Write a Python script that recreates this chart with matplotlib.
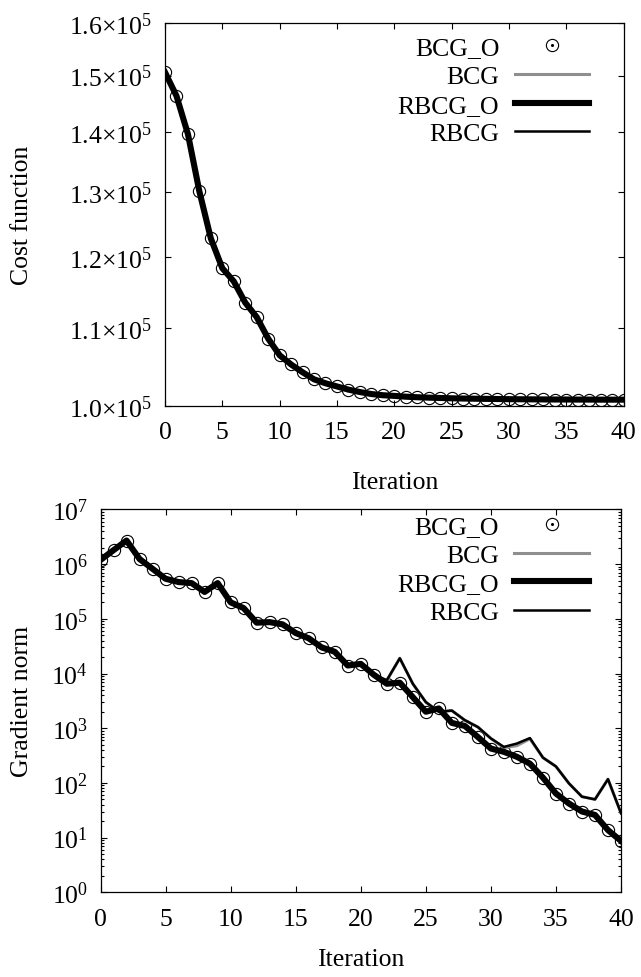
import numpy as np
import matplotlib
matplotlib.use("Agg")
import matplotlib.pyplot as plt
from matplotlib.ticker import FixedLocator, NullLocator, LogLocator, FuncFormatter, MultipleLocator
from matplotlib.legend_handler import HandlerTuple

plt.rcParams['font.family'] = ['Liberation Serif', 'DejaVu Serif']
plt.rcParams['mathtext.fontset'] = 'custom'
plt.rcParams['mathtext.rm'] = 'Liberation Serif'
plt.rcParams['mathtext.it'] = 'Liberation Serif:italic'
plt.rcParams['mathtext.bf'] = 'Liberation Serif:bold'

# iterations 0..40
iters = np.arange(41)

# cost function (same for all four runs)
cost = [1.506e5, 1.463e5, 1.396e5, 1.301e5, 1.228e5, 1.184e5, 1.165e5, 1.135e5,
        1.115e5, 1.086e5, 1.064e5, 1.052e5, 1.042e5, 1.033e5, 1.028e5, 1.024e5,
        1.020e5, 1.017e5, 1.0145e5, 1.013e5, 1.0122e5, 1.0112e5, 1.0105e5, 1.0100e5,
        1.0096e5, 1.0092e5, 1.0089e5, 1.0087e5, 1.0085e5, 1.0083e5, 1.0081e5,
        1.0080e5, 1.0079e5, 1.0078e5, 1.0077e5, 1.0077e5, 1.0076e5, 1.0076e5,
        1.0075e5, 1.0075e5, 1.0075e5]

# gradient norm, orthogonalised runs (BCG_O ~ RBCG_O)
grad_o = [1.19e6, 1.8e6, 2.7e6, 1.24e6, 8.2e5, 5.4e5, 4.7e5, 4.5e5, 3.1e5, 4.5e5,
          2.0e5, 1.57e5, 8.5e4, 8.7e4, 7.9e4, 5.5e4, 4.4e4, 3.0e4, 2.5e4, 1.4e4,
          1.5e4, 9.5e3, 6.5e3, 6.8e3, 3.7e3, 2.0e3, 2.3e3, 1.25e3, 1.1e3, 690,
          425, 370, 300, 225, 125, 64, 42, 30, 26, 13.7, 8.7]

# gradient norm, plain runs
grad_rbcg = [1.19e6, 1.8e6, 2.7e6, 1.24e6, 8.2e5, 5.4e5, 4.7e5, 4.5e5, 3.1e5, 4.5e5,
             2.0e5, 1.57e5, 8.5e4, 8.7e4, 7.9e4, 5.5e4, 4.4e4, 3.0e4, 2.5e4, 1.4e4,
             1.5e4, 9.5e3, 7.5e3, 1.9e4, 6.5e3, 3.0e3, 2.0e3, 2.1e3, 1.4e3, 1.05e3,
             650, 455, 525, 660, 290, 200, 98, 56, 50, 117, 28]
grad_bcg = [1.19e6, 1.8e6, 2.7e6, 1.24e6, 8.2e5, 5.4e5, 4.7e5, 4.5e5, 3.1e5, 4.5e5,
            2.0e5, 1.57e5, 8.5e4, 8.7e4, 7.9e4, 5.5e4, 4.4e4, 3.0e4, 2.5e4, 1.4e4,
            1.5e4, 9.5e3, 7.5e3, 1.9e4, 6.5e3, 3.0e3, 2.0e3, 2.1e3, 1.4e3, 1.05e3,
            650, 440, 480, 640, 290, 200, 98, 56, 50, 117, 28]

cost_ticks = [1.0e5, 1.1e5, 1.2e5, 1.3e5, 1.4e5, 1.5e5, 1.6e5]
names = ['BCG_O', 'BCG', 'RBCG_O', 'RBCG']

FS = 18.5
grey = '#8f8f8f'


def draw(ax, y_o, y_bcg, y_rbcg):
    # gnuplot order: BCG_O points, BCG, RBCG_O, RBCG
    c1, = ax.plot(iters, y_o, ls='none', marker='o', ms=8.8, mfc='none',
                  mec='black', mew=0.8, zorder=2)
    c2, = ax.plot(iters, y_o, ls='none', marker='o', ms=1.2, color='black', zorder=2)
    l1, = ax.plot(iters, y_bcg, color=grey, lw=2.2, zorder=3)
    l2, = ax.plot(iters, y_o, color='black', lw=4.4, zorder=4)
    l3, = ax.plot(iters, y_rbcg, color='black', lw=1.8, zorder=5)
    return [(c1, c2), l1, l2, l3]


def style(ax, xpad):
    ax.set_xlim(0, 40)
    ax.xaxis.set_major_locator(MultipleLocator(5))
    ax.tick_params(which='both', direction='in', top=True, right=True,
                   labelsize=FS, width=0.8)
    ax.tick_params(axis='x', which='major', length=4.5, pad=11)
    ax.tick_params(axis='y', which='major', length=4.5, pad=9)
    ax.tick_params(which='minor', length=2.5)
    for s in ax.spines.values():
        s.set_linewidth(0.9)
    ax.set_xlabel('Iteration', fontsize=FS, labelpad=xpad)


def add_legend(ax, h, anchor):
    ax.legend(h, names, handler_map={tuple: HandlerTuple(ndivide=1)},
              markerfirst=False, frameon=False, fontsize=FS,
              loc='upper right', bbox_to_anchor=anchor,
              borderaxespad=0, borderpad=0, handlelength=2.9,
              handletextpad=0.6, labelspacing=0.22)


fig = plt.figure(figsize=(6.41, 9.78), dpi=100)

ax1 = fig.add_axes([0.2574, 0.5841, 0.7153, 0.3914])
h = draw(ax1, cost, cost, cost)
ax1.set_yscale('log')
ax1.set_ylim(1.0e5, 1.6e5)
ax1.yaxis.set_major_locator(FixedLocator(cost_ticks))
ax1.yaxis.set_minor_locator(NullLocator())
ax1.yaxis.set_major_formatter(FuncFormatter(lambda v, p: r'$%.1f{\times}10^{5}$' % (v / 1e5)))
style(ax1, 20)
ax1.set_ylabel('Cost function', fontsize=FS)
ax1.yaxis.set_label_coords(-0.288, 0.5)
add_legend(ax1, h, (0.925, 0.965))

ax2 = fig.add_axes([0.1568, 0.0866, 0.8120, 0.3915])
h = draw(ax2, grad_o, grad_bcg, grad_rbcg)
ax2.set_yscale('log')
ax2.set_ylim(1, 1e7)
ax2.yaxis.set_major_locator(LogLocator(base=10, numticks=20))
ax2.yaxis.set_minor_locator(LogLocator(base=10, subs=np.arange(2, 10), numticks=20))
ax2.yaxis.set_major_formatter(FuncFormatter(lambda v, p: r'$10^{%d}$' % round(np.log10(v))))
style(ax2, 13)
ax2.set_ylabel('Gradient norm', fontsize=FS)
ax2.yaxis.set_label_coords(-0.13, 0.5)
add_legend(ax2, h, (0.9385, 0.985))

fig.savefig('out.png', dpi=100)
